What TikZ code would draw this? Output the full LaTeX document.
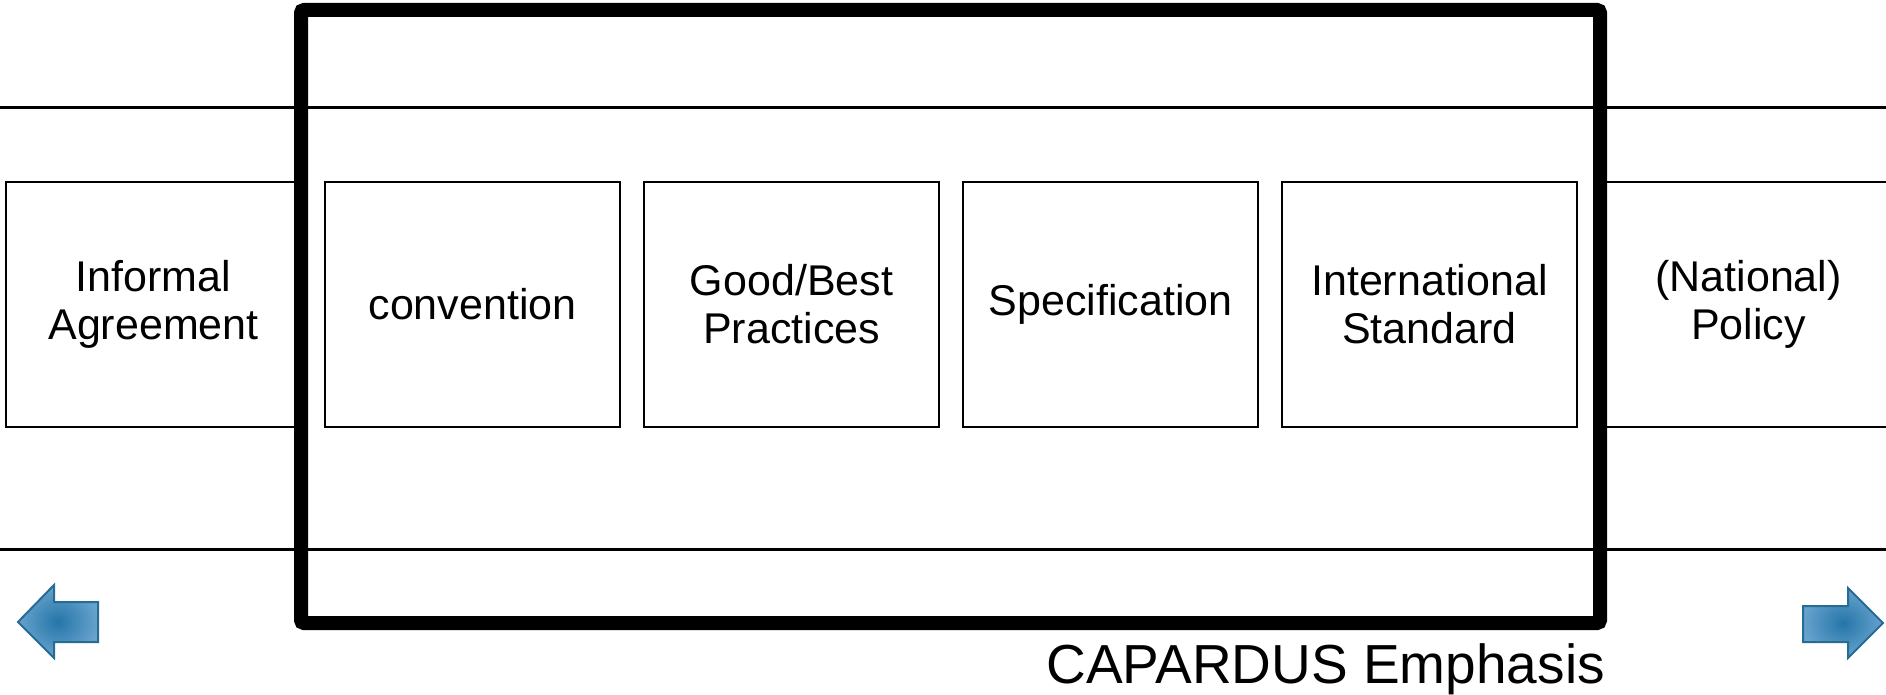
\documentclass[tikz,border=0pt]{standalone}
\usepackage{fontspec}
\setmainfont{Liberation Sans}
\definecolor{arrowline}{RGB}{38,108,148}
\definecolor{arrowcore}{RGB}{36,118,168}
\definecolor{arrowedge}{RGB}{104,162,206}
\begin{document}
\begin{tikzpicture}[x=1pt, y=-1pt, stage/.style={draw, line width=2.6pt, inner sep=0pt, minimum width=295pt, minimum height=245pt, align=center, font=\fontsize{43}{48}\selectfont}, push/.style={draw=arrowline, line width=2pt, line join=miter, inner color=arrowcore, outer color=arrowedge}]
\clip (0,0) rectangle (1886,695);
\fill[white] (0,0) rectangle (1886,695);

\draw[line width=3pt] (0,108) -- (1886,108);
\draw[line width=3pt] (0,549) -- (1886,549);

\node (informal) at (153.5,304.5) [stage] {Informal\\Agreement};
\node (conv) at (472.5,304.5) [stage] {convention};
\node (practice) at (791.5,304.5) [stage] {Good/Best\\Practices};
\node (spec) at (1110.5,304.5) [stage] {Specification};
\node (intl) at (1429.5,304.5) [stage] {International\\Standard};
\node (policy) at (1748.5,304.5) [stage] {(National)\\Policy};

\draw[line width=14pt, rounded corners=3pt] (301,10) rectangle (1600,623);
\node (emph) at (1605,683) [anchor=base east, inner sep=0pt, font=\fontsize{55}{55}\selectfont] {CAPARDUS Emphasis};

\draw[push] (18,622) -- (54,585) -- (54,602) -- (98,602) -- (98,642) -- (54,642) -- (54,658) -- cycle;
\draw[push] (1883,623) -- (1848,588) -- (1848,606) -- (1803,606) -- (1803,642) -- (1848,642) -- (1848,658) -- cycle;
\end{tikzpicture}
\end{document}
